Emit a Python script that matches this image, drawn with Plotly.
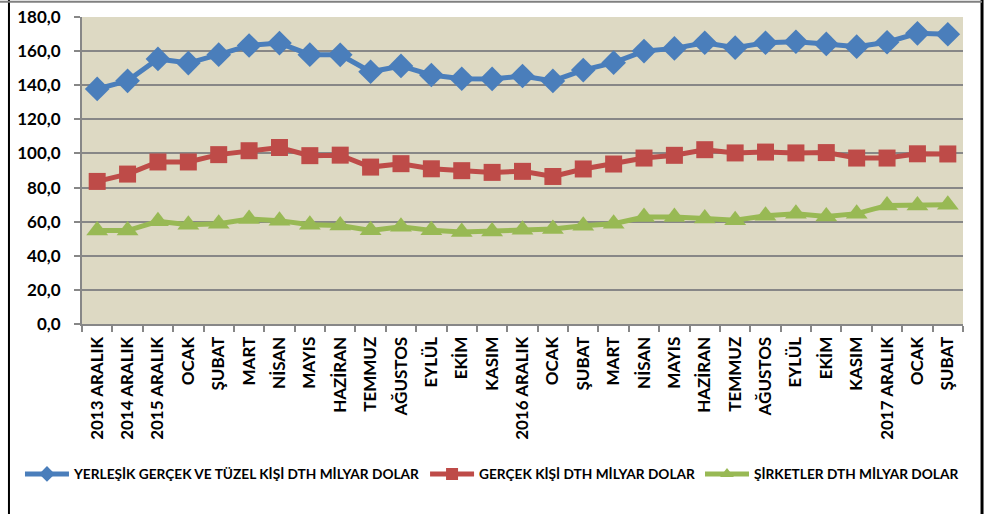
import plotly.graph_objects as go

categories = ["2013 ARALIK", "2014 ARALIK", "2015 ARALIK", "OCAK", "ŞUBAT", "MART", "NİSAN",
              "MAYIS", "HAZİRAN", "TEMMUZ", "AĞUSTOS", "EYLÜL", "EKİM", "KASIM",
              "2016 ARALIK", "OCAK", "ŞUBAT", "MART", "NİSAN", "MAYIS", "HAZİRAN",
              "TEMMUZ", "AĞUSTOS", "EYLÜL", "EKİM", "KASIM", "2017 ARALIK", "OCAK", "ŞUBAT"]

toplam = [137.8, 142.6, 155.4, 153.0, 157.9, 163.3, 164.7, 157.9, 157.8, 147.9, 151.3, 146.0,
          143.8, 143.7, 145.4, 142.5, 148.9, 153.2, 160.0, 161.6, 164.9, 162.0, 164.9, 165.5,
          164.2, 162.6, 165.2, 170.4, 169.9]
gercek = [83.6, 87.9, 95.0, 95.0, 99.3, 101.6, 103.5, 98.7, 99.0, 92.0, 94.0, 91.0, 89.9, 88.9,
          89.5, 86.5, 90.9, 93.8, 97.3, 98.9, 102.2, 100.3, 100.8, 100.3, 100.5, 97.3, 97.3,
          99.8, 99.7]
sirket = [54.8, 54.8, 60.2, 58.2, 58.8, 61.5, 60.6, 58.2, 57.8, 54.9, 57.0, 54.9, 53.9, 54.3,
          55.3, 55.7, 57.6, 58.8, 62.7, 62.7, 61.9, 60.8, 63.5, 64.7, 63.1, 64.7, 69.5, 69.5, 69.9]

series_names = ["YERLEŞİK GERÇEK VE TÜZEL KİŞİ DTH MİLYAR DOLAR",
                "GERÇEK KİŞİ DTH MİLYAR DOLAR",
                "ŞİRKETLER DTH MİLYAR DOLAR"]
y_ticks = [0, 20, 40, 60, 80, 100, 120, 140, 160, 180]

x_idx = list(range(len(categories)))

fig = go.Figure()
styles = [
    (toplam, "#4A7EBB", "diamond", 19),
    (gercek, "#BE4B48", "square", 17),
    (sirket, "#98B954", "triangle-up", 19),
]
for (vals, color, sym, size), name in zip(styles, series_names):
    fig.add_trace(go.Scatter(
        x=x_idx, y=vals, name=name, mode="lines+markers",
        line=dict(color=color, width=5),
        marker=dict(symbol=sym, size=size, color=color, line=dict(width=0)),
    ))

grid = "#878787"
fig.update_layout(
    width=998, height=514,
    paper_bgcolor="white", plot_bgcolor="#DDD9C3",
    margin=dict(l=82, r=35, t=17, b=190, autoexpand=False),
    separators=",.",
    showlegend=True,
    legend=dict(orientation="h", xref="paper", yref="paper",
                x=-0.0704, xanchor="left", y=-0.4886, yanchor="middle",
                font=dict(family="Lato", size=13.7, color="black", weight="bold"),
                bgcolor="rgba(0,0,0,0)", itemwidth=44, itemsizing="constant",
                tracegroupgap=0),
    xaxis=dict(
        range=[-0.5, len(categories) - 0.5], automargin=False,
        tickmode="array", tickvals=x_idx, ticktext=categories,
        tickangle=-90, ticks="", showgrid=False, zeroline=False,
        showline=True, linecolor=grid, linewidth=2,
        tickfont=dict(family="Lato", size=17, color="black", weight="bold"),
        ticklabelstandoff=4,
        minor=dict(ticks="outside", ticklen=6, tickwidth=1.5, tickcolor=grid,
                   tick0=-0.5, dtick=1, showgrid=False),
    ),
    yaxis=dict(
        range=[0, 180], tickmode="array", tickvals=y_ticks, tickformat=".1f",
        automargin=False, ticklabeloverflow="allow",
        showgrid=True, gridcolor=grid, gridwidth=2, zeroline=False,
        showline=True, linecolor=grid, linewidth=2,
        ticks="outside", ticklen=6, tickcolor=grid, tickwidth=1.5,
        tickfont=dict(family="Lato", size=17, color="black", weight="bold"),
        ticklabelstandoff=10,
    ),
)

# chart frame
fig.add_shape(type="line", xref="paper", yref="paper", x0=-0.0829, x1=-0.0829, y0=1.06, y1=-0.7,
              line=dict(color="black", width=2))
fig.add_shape(type="line", xref="paper", yref="paper", x0=1.0216, x1=1.0216, y0=1.06, y1=-0.7,
              line=dict(color="black", width=3))
fig.add_shape(type="line", xref="paper", yref="paper", x0=-0.1, x1=1.0216, y0=1.05, y1=1.05,
              line=dict(color="#808080", width=2))

fig.write_html("out.html", config={"displayModeBar": False},
               post_script="document.body.style.margin='0';")
